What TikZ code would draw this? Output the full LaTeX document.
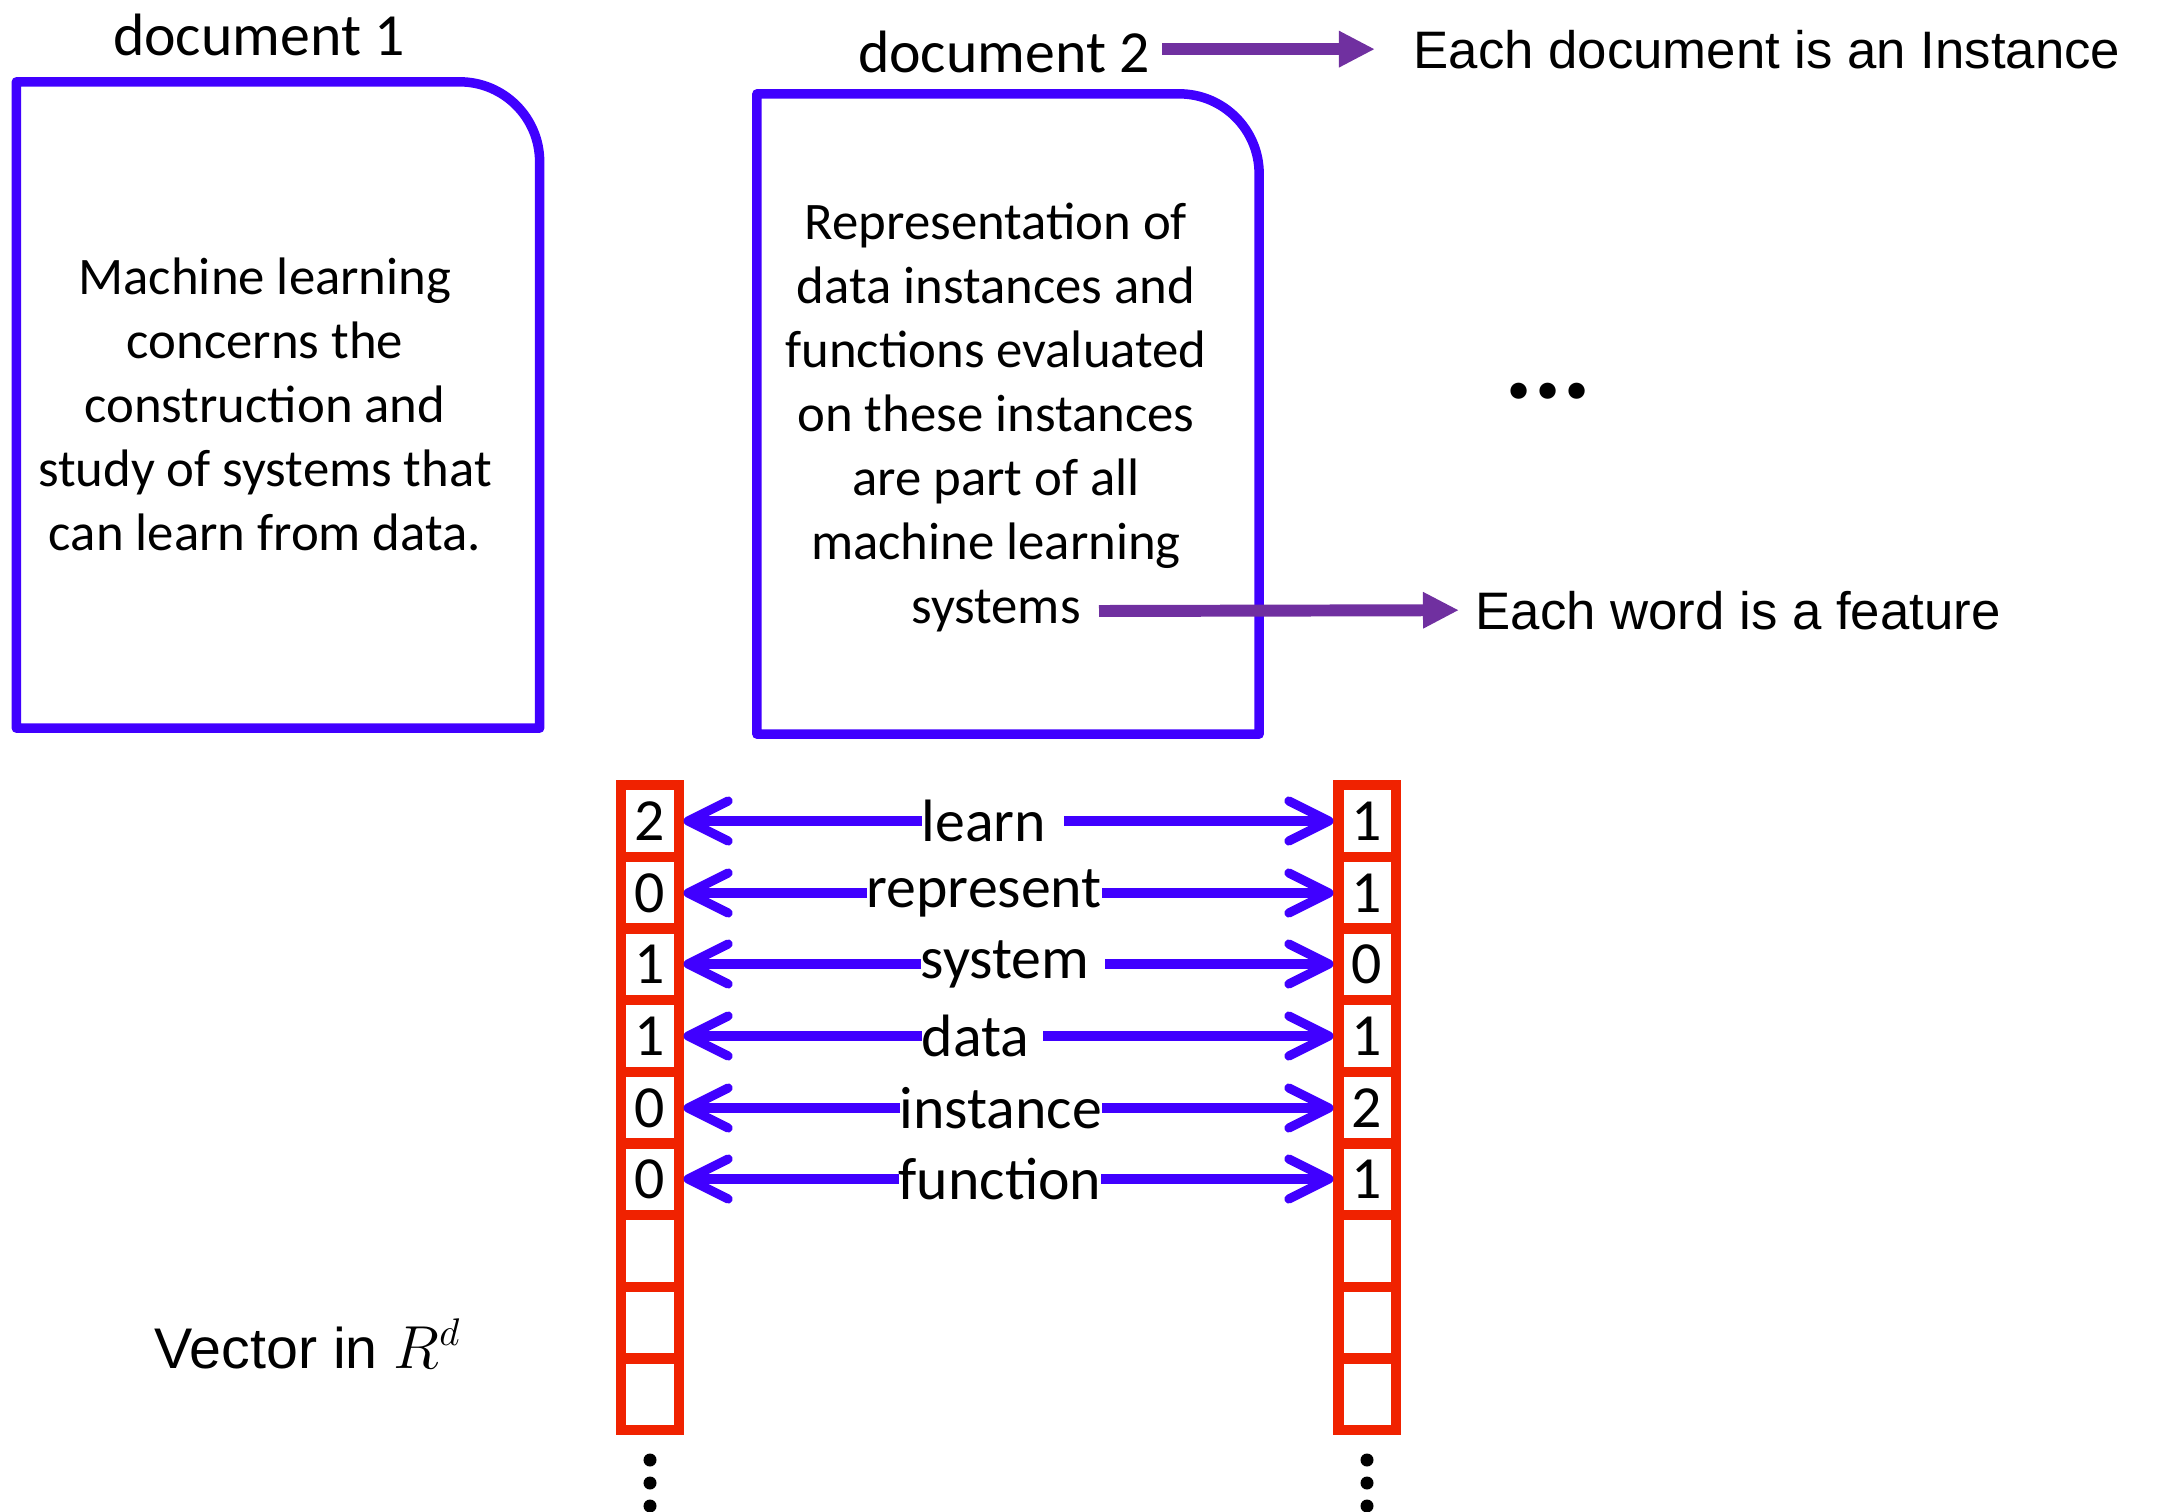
\documentclass[tikz,border=0pt]{standalone}
\usepackage{fontspec}
\setmainfont{Carlito}
\newfontfamily\arialfont{Liberation Sans}
\usetikzlibrary{arrows.meta,positioning}
\usepackage{xcolor}

\definecolor{docblue}{RGB}{64,0,255}
\definecolor{cellred}{RGB}{240,34,0}
\definecolor{notepurple}{RGB}{112,48,160}

\begin{document}
\begin{tikzpicture}[x=0.01cm, y=-0.01cm]
    \tikzstyle{docbox} = [inner sep=0pt, outer sep=0pt]
    \tikzstyle{docline} = [draw=docblue, line width=2.7pt, line join=round]
    \tikzstyle{doctext} = [align=center, font=\fontsize{15}{18.2}\selectfont]
    \tikzstyle{doctitle} = [font=\fontsize{17}{20}\selectfont]
    \tikzstyle{cell} = [draw=cellred, line width=2.85pt, minimum width=0.57cm, minimum height=0.717cm, inner sep=0pt, font=\fontsize{17}{20}\selectfont]
    \tikzstyle{wordlabel} = [fill=white, inner xsep=0pt, inner ysep=1pt, anchor=west, font=\fontsize{17}{20}\selectfont]
    \tikzstyle{vecarrow} = [draw=docblue, line width=2.6pt, <->, >={Straight Barb[length=0.4cm, width=0.4cm, round]}]
    \tikzstyle{note} = [inner sep=0pt, anchor=base west, font=\arialfont\fontsize{15}{18}\selectfont]
    \tikzstyle{notearrow} = [draw=notepurple, line width=3.4pt, -{Triangle[length=0.36cm, width=0.34cm]}]

    \useasboundingbox (0,0) rectangle (2162,1512);

    % documents
    \node[docbox, minimum width=5.23cm, minimum height=6.46cm] (doc1) at (278,405) {};
    \node[docbox, minimum width=5.02cm, minimum height=6.40cm] (doc2) at (1008,414) {};
    \draw[docline] (doc1.south west) -- (doc1.north west) -- ([xshift=-0.8cm]doc1.north east)
        arc[start angle=90, end angle=0, radius=0.8cm] -- (doc1.south east) -- cycle;
    \draw[docline] (doc2.south west) -- (doc2.north west) -- ([xshift=-0.8cm]doc2.north east)
        arc[start angle=90, end angle=0, radius=0.8cm] -- (doc2.south east) -- cycle;

    \node[doctitle, anchor=base] (title1) at (259,55) {document 1};
    \node[doctitle, anchor=base] (title2) at (1004,73) {document 2};

    \node[doctext] (doc1text) at (265,404) {Machine learning\\concerns the\\construction and\\study of systems that\\can learn from data.};
    \node[doctext] (doc2text) at (996,418) {Representation of\\data instances and\\functions evaluated\\on these instances\\are part of all\\machine learning\\systems};
    \coordinate (sysend) at (1099,611);

    % notes
    \node[note] (inst) at (1413,68) {Each document is an Instance};
    \node[note] (feat) at (1475,629) {Each word is a feature};
    \node[anchor=base west, inner sep=0pt, font=\arialfont\fontsize{16.3}{19}\selectfont] (vec) at (154,1368) {Vector in $R^d$};
    \node[anchor=base, inner sep=0pt, font=\fontsize{31}{31}\selectfont\bfseries] (more) at (1548,398) {...};

    \draw[notearrow, shorten >=0.38cm] (inst.west -| title2.east) -- (inst.west);
    \draw[notearrow, shorten >=0.16cm] (sysend) -- (feat.west);

    % vector of document 1
    \node[cell] (l1) at (650,821) {2};
    \node[cell] (l2) at (650,893) {0};
    \node[cell] (l3) at (650,964) {1};
    \node[cell] (l4) at (650,1036) {1};
    \node[cell] (l5) at (650,1108) {0};
    \node[cell] (l6) at (650,1179) {0};
    \node[cell] (l7) at (650,1251) {};
    \node[cell] (l8) at (650,1323) {};
    \node[cell] (l9) at (650,1394) {};

    % vector of document 2
    \node[cell] (r1) at (1367,821) {1};
    \node[cell] (r2) at (1367,893) {1};
    \node[cell] (r3) at (1367,964) {0};
    \node[cell] (r4) at (1367,1036) {1};
    \node[cell] (r5) at (1367,1108) {2};
    \node[cell] (r6) at (1367,1179) {1};
    \node[cell] (r7) at (1367,1251) {};
    \node[cell] (r8) at (1367,1323) {};
    \node[cell] (r9) at (1367,1394) {};

    \fill (650,1460) circle[radius=0.065cm] (650,1483) circle[radius=0.065cm] (650,1506) circle[radius=0.065cm];
    \fill (1367,1460) circle[radius=0.065cm] (1367,1483) circle[radius=0.065cm] (1367,1506) circle[radius=0.065cm];

    % words
    \draw[vecarrow] (l1.east) -- (r1.west);
    \draw[vecarrow] (l2.east) -- (r2.west);
    \draw[vecarrow] (l3.east) -- (r3.west);
    \draw[vecarrow] (l4.east) -- (r4.west);
    \draw[vecarrow] (l5.east) -- (r5.west);
    \draw[vecarrow] (l6.east) -- (r6.west);
    \node[wordlabel] (w1) at (921,821) {learn\rule{5pt}{0pt}};
    \node[wordlabel] (w2) at (866,893) {represent};
    \node[wordlabel] (w3) at (920,964) {system\rule{4.5pt}{0pt}};
    \node[wordlabel] (w4) at (921,1036) {data\rule{4pt}{0pt}};
    \node[wordlabel] (w5) at (899,1108) {instance};
    \node[wordlabel] (w6) at (898,1179) {function};
\end{tikzpicture}
\end{document}
